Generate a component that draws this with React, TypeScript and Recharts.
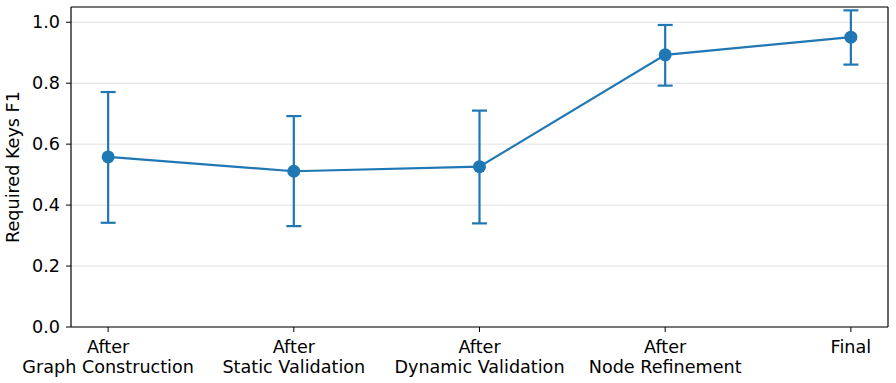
import React from "react"
import {
    LineChart,
    Line,
    XAxis,
    YAxis,
    CartesianGrid,
    ErrorBar,
    ReferenceLine,
} from "recharts"

const stages = [
    ["After", "Graph Construction"],
    ["After", "Static Validation"],
    ["After", "Dynamic Validation"],
    ["After", "Node Refinement"],
    ["Final"],
]
const meanF1 = [0.558, 0.511, 0.526, 0.893, 0.951]
const lowerF1 = [0.342, 0.331, 0.340, 0.792, 0.861]
const upperF1 = [0.771, 0.692, 0.710, 0.991, 1.039]
const yTicks = [0, 0.2, 0.4, 0.6, 0.8, 1.0]

const data = meanF1.map((m, i) => ({
    idx: i,
    f1: m,
    err: [m - lowerF1[i], upperF1[i] - m],
}))

const FONT = "DejaVu Sans, sans-serif"
const FS = 17.6
const BLUE = "#1f77b4"

function StageTick(props: any) {
    const { x, y, payload } = props
    const lines = stages[payload.value] || []
    return (
        <g transform={`translate(${x},${y})`}>
            {lines.map((t, i) => (
                <text
                    key={i}
                    x={0}
                    y={19 + i * 20}
                    textAnchor="middle"
                    fontFamily={FONT}
                    fontSize={FS}
                    fill="#000"
                >
                    {t}
                </text>
            ))}
        </g>
    )
}

export default function App() {
    return (
        <div style={{ position: "absolute", left: 0, top: 0, width: 896, height: 383, background: "#fff" }}>
            <LineChart
                width={896}
                height={383}
                data={data}
                margin={{ top: 7, right: 8, bottom: 0, left: 0 }}
            >
                <CartesianGrid horizontal vertical={false} stroke="#e0e0e0" strokeWidth={1} />
                <XAxis
                    dataKey="idx"
                    type="number"
                    domain={[-0.2, 4.2]}
                    ticks={[0, 1, 2, 3, 4]}
                    tick={<StageTick />}
                    tickSize={5}
                    tickMargin={2}
                    height={56}
                    stroke="#000"
                    axisLine={{ stroke: "#000", strokeWidth: 1.2 }}
                    tickLine={{ stroke: "#000" }}
                    interval={0}
                    allowDecimals={false}
                />
                <YAxis
                    type="number"
                    domain={[0, 1.05]}
                    ticks={yTicks}
                    tickFormatter={(v) => v.toFixed(1)}
                    width={71}
                    tickSize={5}
                    tickMargin={6}
                    axisLine={{ stroke: "#000", strokeWidth: 1.2 }}
                    tickLine={{ stroke: "#000" }}
                    tick={{ fontFamily: FONT, fontSize: FS, fill: "#000" }}
                    label={{
                        value: "Required Keys F1",
                        angle: -90,
                        position: "insideLeft",
                        offset: 0,
                        dx: 13,
                        style: { textAnchor: "middle", fontFamily: FONT, fontSize: FS, fill: "#000" },
                    }}
                />
                <ReferenceLine x={4.2} stroke="#000" strokeWidth={1.2} />
                <ReferenceLine y={1.05} stroke="#000" strokeWidth={1.2} />
                <Line
                    dataKey="f1"
                    stroke={BLUE}
                    strokeWidth={2.2}
                    dot={{ r: 6.5, fill: BLUE, stroke: BLUE, strokeWidth: 0 }}
                    activeDot={false}
                    isAnimationActive={false}
                >
                    <ErrorBar
                        dataKey="err"
                        direction="y"
                        width={7.5}
                        stroke={BLUE}
                        strokeWidth={2.2}
                        isAnimationActive={false}
                    />
                </Line>
            </LineChart>
        </div>
    )
}
